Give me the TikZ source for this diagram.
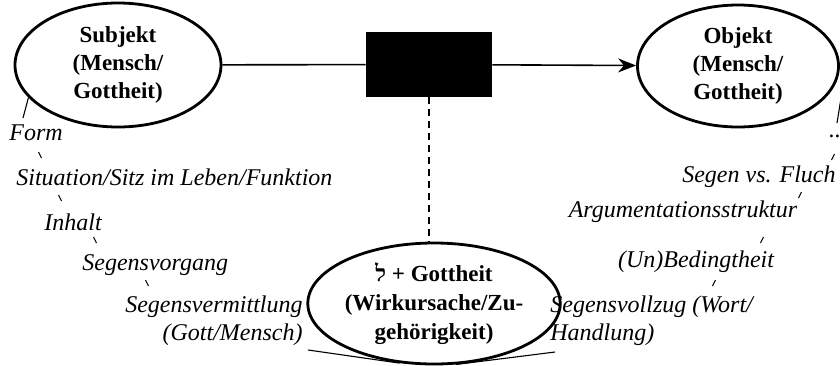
\documentclass[tikz,border=0pt]{standalone}
\usepackage{fontspec}
\setmainfont{Liberation Serif}
\newfontfamily\hebr[Script=Hebrew]{Liberation Serif}
\usetikzlibrary{arrows.meta,shapes.geometric}
\tikzset{
  blob/.style={ellipse,draw,line width=1.4pt,align=center,inner sep=0pt,
    font=\fontsize{11.5}{14}\selectfont\bfseries},
  item/.style={font=\fontsize{12}{14}\selectfont\itshape,inner sep=1pt},
  tick/.style={line width=0.5pt},
  link/.style={line width=0.8pt},
  thin/.style={line width=0.55pt}
}
\begin{document}
\begin{tikzpicture}[x=0.5pt,y=-0.5pt]
  \useasboundingbox (0,0) rectangle (840,365);
  \node[blob,minimum width=103pt,minimum height=62pt] (subj) at (118,65)
    {Subjekt\\(Mensch/\\Gottheit)};
  \node[blob,minimum width=100.5pt,minimum height=61pt] (obj) at (738,66)
    {Objekt\\(Mensch/\\Gottheit)};
  \node[blob,minimum width=109pt,minimum height=60.5pt,
    font=\fontsize{11.5}{14.5}\selectfont\bfseries] (lamed) at (434,303.5)
    {{\hebr ל} + Gottheit\\(Wirkursache/Zu-\\gehörigkeit)};
  \node[fill=black,minimum width=63pt,minimum height=32.5pt,inner sep=0pt] (box) at (429,64.5) {};

  % left chain
  \node[item,anchor=west] (form) at (7,133) {Form};
  \node[item,anchor=west] (sitz) at (14,177) {Situation/Sitz im Leben/Funktion};
  \node[item,anchor=west] (inhalt) at (42,222) {Inhalt};
  \node[item,anchor=west] (vorgang) at (80,265) {Segensvorgang};
  \node[item,anchor=east,align=right] (vermittlung) at (305,321)
    {Segensvermittlung\\(Gott/Mensch)};

  % right chain
  \node[item] (dots) at (835,136) {..};
  \node[item,anchor=east] (fluch) at (838,177) {Segen vs. Fluch};
  \node[item] (argument) at (683,212) {Argumentationsstruktur};
  \node[item] (bedingt) at (696,262) {(Un)Bedingtheit};
  \node[item,anchor=west,align=left] (vollzug) at (548,321)
    {Segensvollzug (Wort/\\Handlung)};

  \coordinate (formtop) at (23,118);
  \coordinate (oa) at (842,92);
  \coordinate (ob) at (837,123);
  \coordinate (tl) at (308,350);
  \coordinate (tr) at (555,352);
  \coordinate (k1) at (38.5,152);
  \coordinate (k2) at (58.5,195);
  \coordinate (k3) at (93.5,237);
  \coordinate (k4) at (145.5,280);
  \coordinate (r1) at (834.5,154);
  \coordinate (r2) at (801.5,192);
  \coordinate (r3) at (763.5,237);
  \coordinate (r4) at (715.5,280);

  \draw[link] (subj) -- (box);
  \draw[link,-{Stealth[length=9pt,width=7pt]}] (box) -- (obj);
  \draw[link,dash pattern=on 3.5pt off 2.5pt] (box.south) -- (box.south |- lamed.north);

  \draw[thin] (subj.200) -- (formtop);
  \draw[thin] (oa) -- (ob);
  \draw[thin] (tl) -- (lamed.240);
  \draw[thin] (lamed.290) -- (tr);

  \draw[tick] (k1) -- ++(3,6);
  \draw[tick] (k2) -- ++(3,6);
  \draw[tick] (k3) -- ++(3,6);
  \draw[tick] (k4) -- ++(3,6);
  \draw[tick] (r1) -- ++(-3,6);
  \draw[tick] (r2) -- ++(-3,6);
  \draw[tick] (r3) -- ++(-3,6);
  \draw[tick] (r4) -- ++(-3,6);
\end{tikzpicture}
\end{document}
